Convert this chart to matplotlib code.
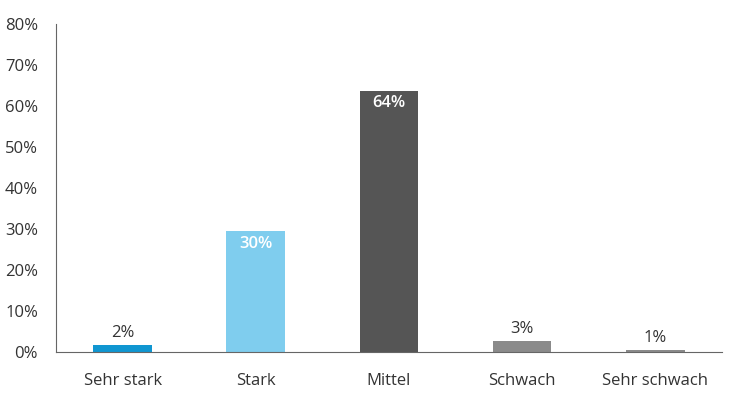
import numpy as np
import matplotlib
matplotlib.use('Agg')
from matplotlib import pyplot as plt

categories = ['Sehr stark', 'Stark', 'Mittel', 'Schwach', 'Sehr schwach']
values = [1.6, 29.4, 63.7, 2.7, 0.4]
labels = ['2%', '30%', '64%', '3%', '1%']
colors = ['#1096d1', '#7fcdee', '#555555', '#8a8a8a', '#8a8a8a']
inside = [False, True, True, False, False]

plt.rcParams['font.family'] = ['Open Sans', 'DejaVu Sans']

fig = plt.figure(figsize=(7.3, 3.98), dpi=100)
ax = fig.add_axes([0.0767, 0.1156, 0.9123, 0.8241])

x = np.arange(len(categories))
ax.bar(x, values, width=0.44, color=colors)

for xi, v, lab, ins in zip(x, values, labels, inside):
    if ins:
        ax.text(xi, v - 1.1, lab, ha='center', va='top', color='white',
                fontsize=12, fontweight='semibold')
    else:
        ax.text(xi, v + 1.0, lab, ha='center', va='bottom', color='#333333',
                fontsize=12)

ax.set_xlim(-0.5, 4.5)
ax.set_ylim(0, 80)
ax.set_yticks(np.arange(0, 81, 10))
ax.set_yticklabels([f'{t}%' for t in range(0, 81, 10)])
ax.set_xticks(x)
ax.set_xticklabels(categories)
ax.tick_params(axis='both', length=0, labelsize=12, colors='#333333')
ax.tick_params(axis='y', pad=13)
ax.tick_params(axis='x', pad=15)

for s in ['top', 'right']:
    ax.spines[s].set_visible(False)
ax.spines['left'].set_color('#666666')
ax.spines['bottom'].set_color('#666666')

fig.savefig('out.png', dpi=100)
plt.close()
